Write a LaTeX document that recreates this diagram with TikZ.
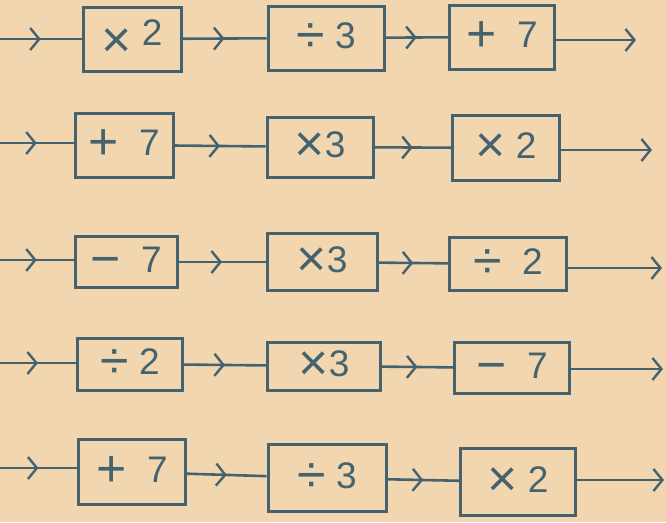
\documentclass[tikz,border=0pt]{standalone}
\usepackage{fontspec}
\setmainfont{Liberation Sans}
\usetikzlibrary{arrows.meta,decorations.markings}
\definecolor{paper}{HTML}{F2D6B0}
\definecolor{ink}{HTML}{44636F}
\newcommand{\opsym}[1]{\raisebox{-4pt}{\scalebox{1.4}{#1}}}

\begin{document}
\begin{tikzpicture}[x=1pt,y=-1pt,
  machine/.style={draw=ink,line width=3pt,inner sep=0pt,text=ink,font=\fontsize{37}{40}\selectfont},
  flow/.style={draw=ink,line width=2.6pt,postaction={decorate},
    decoration={markings,mark=at position 0.5 with {\arrow{Straight Barb[length=9pt,width=22pt,line width=2.4pt]}}}},
  flowend/.style={draw=ink,line width=2.6pt,-{Straight Barb[length=9pt,width=22pt,line width=2.4pt]}}]
  \fill[paper] (0,0) rectangle (666,522);
  \useasboundingbox (0,0) rectangle (666,522);

  % row 1
  \coordinate (in1) at (0,39);
  \node[machine,minimum width=98pt,minimum height=64pt] (a1) at (132,39) {\opsym{×}\;\raisebox{8pt}{2}};
  \node[machine,minimum width=116pt,minimum height=64pt] (b1) at (326,38) {\opsym{÷}\;3};
  \node[machine,minimum width=105pt,minimum height=64pt] (c1) at (502,37) {\opsym{+}\;\;7};
  \coordinate (out1) at (636,40);
  % row 2
  \coordinate (in2) at (0,143);
  \node[machine,minimum width=98pt,minimum height=64pt] (a2) at (124,145) {\opsym{+}\;\;7};
  \node[machine,minimum width=106pt,minimum height=60pt] (b2) at (320,147) {\opsym{×}3};
  \node[machine,minimum width=107pt,minimum height=65pt] (c2) at (506,148) {\opsym{×}\;2};
  \coordinate (out2) at (652,150);
  % row 3
  \coordinate (in3) at (0,260);
  \node[machine,minimum width=102pt,minimum height=51pt] (a3) at (126,262) {\opsym{−}\;\;7};
  \node[machine,minimum width=110pt,minimum height=57pt] (b3) at (322,262) {\opsym{×}3};
  \node[machine,minimum width=117pt,minimum height=53pt] (c3) at (508,264) {\opsym{÷}\;\;2};
  \coordinate (out3) at (662,268);
  % row 4
  \coordinate (in4) at (0,363);
  \node[machine,minimum width=105pt,minimum height=52pt] (a4) at (130,364) {\opsym{÷}\;2};
  \node[machine,minimum width=113pt,minimum height=48pt] (b4) at (324,366) {\opsym{×}3};
  \node[machine,minimum width=115pt,minimum height=51pt] (c4) at (512,368) {\opsym{−}\;\;7};
  \coordinate (out4) at (663,369);
  % row 5
  \coordinate (in5) at (0,468);
  \node[machine,minimum width=107pt,minimum height=65pt] (a5) at (132,472) {\opsym{+}\;\;7};
  \node[machine,minimum width=118pt,minimum height=67pt] (b5) at (327,478) {\opsym{÷}\;3};
  \node[machine,minimum width=115pt,minimum height=67pt] (c5) at (518,482) {\opsym{×}\;2};
  \coordinate (out5) at (664,480);

  \foreach \r in {1,...,5} {
    \draw[flow] (in\r) -- (a\r.west |- in\r);
    \draw[flow] (a\r) -- (b\r);
    \draw[flow] (b\r) -- (c\r);
    \draw[flowend] (c\r.east |- out\r) -- (out\r);
  }
\end{tikzpicture}
\end{document}
